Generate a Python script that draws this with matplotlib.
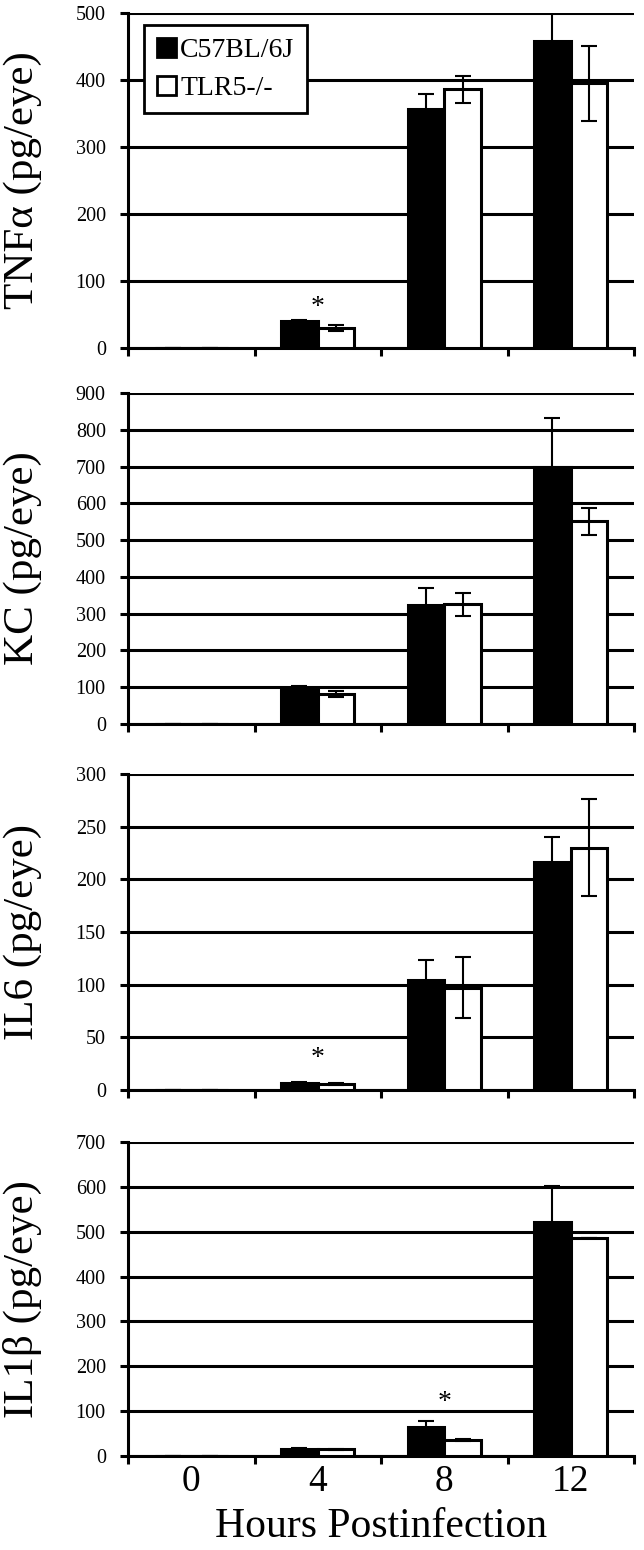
import numpy as np
import matplotlib
matplotlib.use('Agg')
import matplotlib.pyplot as plt
from matplotlib.patches import Patch

plt.rcParams['font.family'] = ['Liberation Serif', 'DejaVu Serif']

hours = ['0', '4', '8', '12']
legend_names = ['C57BL/6J', 'TLR5-/-']

# TNFa
tnf_wt = [0, 40, 357, 458]
tnf_wt_err = [0, 2, 22, 50]
tnf_ko = [0, 30, 386, 395]
tnf_ko_err = [0, 4, 20, 56]

# KC
kc_wt = [0, 97, 323, 699]
kc_wt_err = [0, 7, 48, 133]
kc_ko = [0, 82, 326, 551]
kc_ko_err = [0, 9, 31, 36]

# IL6
il6_wt = [0, 7, 104, 216]
il6_wt_err = [0, 1, 19, 24]
il6_ko = [0, 6, 97, 230]
il6_ko_err = [0, 1, 29, 46]

# IL1b
il1b_wt = [0, 15, 64, 522]
il1b_wt_err = [0, 2, 13, 81]
il1b_ko = [0, 15, 35, 486]
il1b_ko_err = [0, 1, 2, 0]

ylabels = ['TNF\u03b1 (pg/eye)', 'KC (pg/eye)', 'IL6 (pg/eye)', 'IL1\u03b2 (pg/eye)']
ymax = [500, 900, 300, 700]
ystep = [100, 100, 50, 100]
# (hour index, height of the star) per panel
stars = [(1, 61), None, (1, 30), (2, 120)]

panels = [
    (tnf_wt, tnf_wt_err, tnf_ko, tnf_ko_err),
    (kc_wt, kc_wt_err, kc_ko, kc_ko_err),
    (il6_wt, il6_wt_err, il6_ko, il6_ko_err),
    (il1b_wt, il1b_wt_err, il1b_ko, il1b_ko_err),
]

W, H = 644, 1550
fig = plt.figure(figsize=(W / 100, H / 100), dpi=100)

# pixel boxes of the axes: (top, bottom)
boxes = [(13, 348), (393, 724), (774, 1090), (1142, 1456)]
left, right = 128, 634

x = np.arange(len(hours))
bw = 0.29

for i, (wt, wt_err, ko, ko_err) in enumerate(panels):
    top, bot = boxes[i]
    ax = fig.add_axes([left / W, 1 - bot / H, (right - left) / W, (bot - top) / H])

    ax.bar(x - bw / 2, wt, bw, color='black', edgecolor='black', linewidth=2.2, zorder=3)
    ax.bar(x + bw / 2, ko, bw, color='white', edgecolor='black', linewidth=2.2, zorder=3)
    ax.errorbar(x - bw / 2, wt, yerr=wt_err, fmt='none', ecolor='black',
                elinewidth=1.5, capsize=6, capthick=1.5, zorder=4)
    ax.errorbar(x + bw / 2, ko, yerr=ko_err, fmt='none', ecolor='black',
                elinewidth=1.5, capsize=6, capthick=1.5, zorder=4)

    ax.set_xlim(-0.5, len(hours) - 0.5)
    ax.set_ylim(0, ymax[i])
    ax.set_yticks(np.arange(0, ymax[i] + 1, ystep[i]))
    ax.yaxis.grid(True, color='black', linewidth=2.2)
    ax.set_axisbelow(True)

    for s in ['top', 'right']:
        ax.spines[s].set_visible(False)
    ax.spines['left'].set_linewidth(2.2)
    ax.spines['bottom'].set_linewidth(2.2)

    ax.set_xticks(x)
    ax.set_xticks(np.arange(-0.5, len(hours), 1), minor=True)
    ax.tick_params(axis='x', which='major', length=0, labelsize=27, pad=6)
    ax.tick_params(axis='x', which='minor', length=6, width=2.2, direction='out')
    ax.tick_params(axis='y', length=6, width=2.2, labelsize=14.5, pad=10)
    if i == 3:
        ax.set_xticklabels(hours)
        ax.set_xlabel('Hours Postinfection', fontsize=30)
        ax.xaxis.set_label_coords(0.5, -0.165)
    else:
        ax.set_xticklabels([])

    ax.set_ylabel(ylabels[i], fontsize=31)
    ax.yaxis.set_label_coords(-0.17, 0.5)

    if stars[i] is not None:
        k, h = stars[i]
        ax.text(x[k], h, '*', ha='center', va='center', fontsize=20, zorder=5)

    if i == 0:
        handles = [Patch(facecolor='black', edgecolor='black', linewidth=2),
                   Patch(facecolor='white', edgecolor='black', linewidth=2)]
        leg = ax.legend(handles, legend_names, loc='upper left',
                        bbox_to_anchor=(0.032, 0.964), borderaxespad=0,
                        fontsize=20, handlelength=0.7, handleheight=0.7,
                        handletextpad=0.15, labelspacing=0.45,
                        fancybox=False, framealpha=1, edgecolor='black',
                        borderpad=0.45)
        leg.get_frame().set_linewidth(2.0)
        leg.set_zorder(6)

fig.savefig('out.png', dpi=100)
